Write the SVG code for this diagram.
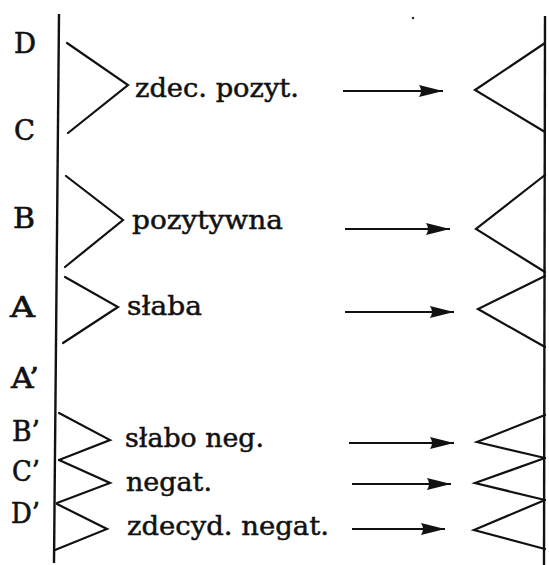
<svg xmlns="http://www.w3.org/2000/svg" width="549" height="565" viewBox="0 0 549 565">
<style>
.ln{fill:none;stroke:#111;stroke-width:2.2;stroke-linejoin:miter;stroke-linecap:round}
.ax{fill:none;stroke:#111;stroke-width:2.4}
.lb{font-family:"DejaVu Serif","Liberation Serif",serif;font-size:27px;fill:#111;stroke:#111;stroke-width:0.6}
.tx{font-family:"DejaVu Serif","Liberation Serif",serif;font-size:26px;fill:#111;stroke:#111;stroke-width:0.5}
.ar{fill:none;stroke:#111;stroke-width:2.2;marker-end:url(#ah)}
</style>
<defs>
<marker id="ah" viewBox="0 0 24 13" refX="24" refY="6.5" markerWidth="24" markerHeight="13" markerUnits="userSpaceOnUse" orient="auto">
<path d="M0,0.5 L24,6.5 L0,12.5 Q4,6.5 0,0.5 z" fill="#111"/>
</marker>
</defs>
<rect width="549" height="565" fill="#fff"/>
<g id="axes">
<line class="ax" x1="59" y1="14" x2="54" y2="563"/>
<line class="ax" x1="545" y1="16" x2="544" y2="565"/>
<circle cx="413" cy="18" r="1.3" fill="#333"/>
</g>
<g id="labels">
<text class="lb" x="14" y="53" textLength="22" lengthAdjust="spacingAndGlyphs">D</text>
<text class="lb" x="14" y="140" textLength="21" lengthAdjust="spacingAndGlyphs">C</text>
<text class="lb" x="13" y="228" textLength="22" lengthAdjust="spacingAndGlyphs">B</text>
<text class="lb" x="10" y="317" textLength="25" lengthAdjust="spacingAndGlyphs">A</text>
<text class="lb" x="11" y="388" textLength="28" lengthAdjust="spacingAndGlyphs">A’</text>
<text class="lb" x="12" y="441" textLength="28" lengthAdjust="spacingAndGlyphs">B’</text>
<text class="lb" x="12" y="481" textLength="28" lengthAdjust="spacingAndGlyphs">C’</text>
<text class="lb" x="11" y="523" textLength="29" lengthAdjust="spacingAndGlyphs">D’</text>
</g>
<g id="node-zdec-pozyt">
<polyline class="ln" points="67,43 128,85 68,133"/>
<text class="tx" x="135" y="97" textLength="164" lengthAdjust="spacingAndGlyphs">zdec. pozyt.</text>
</g>
<g id="node-pozytywna">
<polyline class="ln" points="66,176 123,220 65,267"/>
<text class="tx" x="132" y="229" textLength="151" lengthAdjust="spacingAndGlyphs">pozytywna</text>
</g>
<g id="node-slaba">
<polyline class="ln" points="65,277 118,307 63,343"/>
<text class="tx" x="127" y="315" textLength="75" lengthAdjust="spacingAndGlyphs">słaba</text>
</g>
<g id="node-slabo-neg">
<polyline class="ln" points="59,413 110,440 59,460"/>
<text class="tx" x="125" y="447" textLength="139" lengthAdjust="spacingAndGlyphs">słabo neg.</text>
</g>
<g id="node-negat">
<polyline class="ln" points="59,460 110,483 57,503"/>
<text class="tx" x="126" y="491" textLength="86" lengthAdjust="spacingAndGlyphs">negat.</text>
</g>
<g id="node-zdecyd-negat">
<polyline class="ln" points="57,504 107,529 55,550"/>
<text class="tx" x="127" y="535" textLength="202" lengthAdjust="spacingAndGlyphs">zdecyd. negat.</text>
</g>
<g id="right-1"><polyline class="ln" points="545,43 475,90 545,132"/></g>
<g id="right-2"><polyline class="ln" points="545,175 476,229 545,272"/></g>
<g id="right-3"><polyline class="ln" points="545,276 478,309 545,347"/></g>
<g id="right-4"><polyline class="ln" points="545,415 477,442 545,458"/></g>
<g id="right-5"><polyline class="ln" points="545,458 475,483 545,500"/></g>
<g id="right-6"><polyline class="ln" points="545,500 474,530 545,549"/></g>
<g id="connectors">
<line class="ar" x1="343" y1="91" x2="443" y2="91"/>
<line class="ar" x1="345" y1="229" x2="450" y2="229"/>
<line class="ar" x1="345" y1="312" x2="454" y2="312"/>
<line class="ar" x1="349" y1="443" x2="454" y2="443"/>
<line class="ar" x1="352" y1="484" x2="451" y2="484"/>
<line class="ar" x1="352" y1="529" x2="445" y2="529"/>
</g>
</svg>
